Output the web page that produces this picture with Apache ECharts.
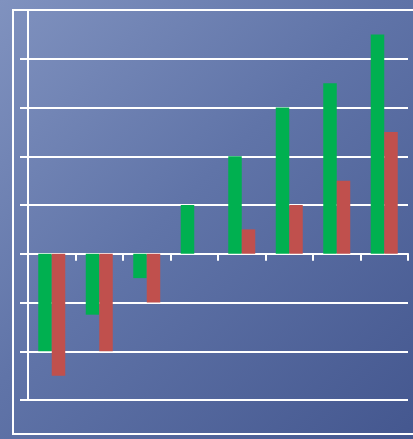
<!DOCTYPE html>
<html>
<head>
<meta charset="utf-8">
<script src="https://cdn.jsdelivr.net/npm/echarts@6/dist/echarts.min.js"></script>
<style>
html,body{margin:0;padding:0;}
#chart{width:413px;height:439px;background:linear-gradient(135deg,#8092bf 0%,#6074a8 45%,#44578f 100%);}
</style>
</head>
<body>
<div id="chart"></div>
<script>
const categories = ['1','2','3','4','5','6','7','8'];
const greenValues = [-2, -1.25, -0.5, 1, 2, 3, 3.5, 4.5];
const redValues = [-2.5, -2, -1, 0, 0.5, 1, 1.5, 2.5];
const yMin = -3, yMax = 5, yInterval = 1;

const chart = echarts.init(document.getElementById('chart'));
chart.setOption({
  backgroundColor: 'transparent',
  animation: false,
  grid: {left: 28, top: 10, right: 5, bottom: 39},
  graphic: [{
    type: 'rect',
    shape: {x: 13, y: 10, width: 402, height: 424},
    style: {fill: 'none', stroke: '#ffffff', lineWidth: 2},
    silent: true, z: 0
  }],
  xAxis: {
    type: 'category',
    data: categories,
    boundaryGap: true,
    axisLine: {onZero: true, lineStyle: {color: '#ffffff', width: 2}},
    axisTick: {show: true, length: 7, lineStyle: {color: '#ffffff', width: 2}},
    axisLabel: {show: false},
    splitLine: {show: false}
  },
  yAxis: {
    type: 'value',
    min: yMin, max: yMax, interval: yInterval,
    axisLine: {show: true, lineStyle: {color: '#ffffff', width: 2}},
    axisTick: {show: true, length: 8, lineStyle: {color: '#ffffff', width: 2}},
    axisLabel: {show: false},
    splitLine: {show: true, lineStyle: {color: '#ffffff', width: 2}}
  },
  series: [
    {type: 'bar', data: greenValues, barWidth: 13.5, barGap: '0%', itemStyle: {color: '#00b050'}},
    {type: 'bar', data: redValues, barWidth: 13.5, barGap: '0%', itemStyle: {color: '#c0504d'}}
  ]
});
</script>
</body>
</html>
